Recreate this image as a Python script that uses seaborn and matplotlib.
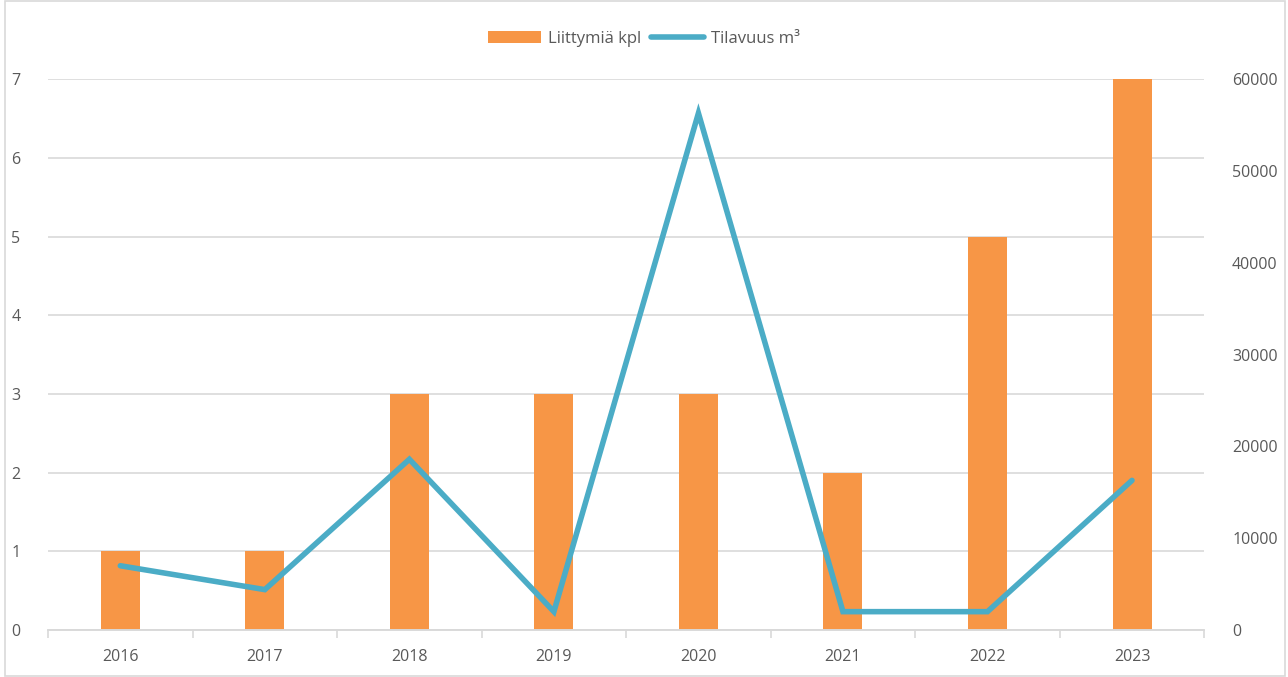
import numpy as np
import pandas as pd
import matplotlib
matplotlib.use("Agg")
import matplotlib.pyplot as plt
from matplotlib.patches import Rectangle, Patch
from matplotlib.lines import Line2D
import seaborn as sns

# data
years = ["2016", "2017", "2018", "2019", "2020", "2021", "2022", "2023"]
liittymia = [1, 1, 3, 3, 3, 2, 5, 7]
tilavuus = [7000, 4400, 18600, 2000, 56300, 2000, 2000, 16300]

BAR_COLOR = "#F79646"
LINE_COLOR = "#4BACC6"
TEXT_COLOR = "#595959"
GRID_COLOR = "#D9D9D9"

sns.set_theme(style="white")
plt.rcParams["font.family"] = ["Open Sans", "DejaVu Sans"]

df = pd.DataFrame({"Vuosi": years, "Liittymiä kpl": liittymia, "Tilavuus m³": tilavuus})

fig = plt.figure(figsize=(12.88, 6.77), dpi=100)
ax = fig.add_axes([0.0373, 0.0694, 0.8977, 0.8136])

sns.barplot(data=df, x="Vuosi", y="Liittymiä kpl", color=BAR_COLOR, width=0.27,
            saturation=1, ax=ax, zorder=2, linewidth=0)

ax2 = ax.twinx()
sns.pointplot(data=df, x="Vuosi", y="Tilavuus m³", color=LINE_COLOR, ax=ax2,
              markersize=0, linewidth=4.0, errorbar=None)
for ln in ax2.lines:
    ln.set_solid_capstyle("round")
    ln.set_solid_joinstyle("miter")

ax.set_xlim(-0.5, len(years) - 0.5)
ax.set_ylim(0, 7)
ax2.set_ylim(0, 60000)
ax.set_yticks(range(0, 8))
ax2.set_yticks(range(0, 60001, 10000))

ax.yaxis.grid(True, color=GRID_COLOR, linewidth=1.2, zorder=0)
ax.set_axisbelow(True)

for a in (ax, ax2):
    a.set_xlabel("")
    a.set_ylabel("")
    for s in ("top", "left", "right"):
        a.spines[s].set_visible(False)
    a.spines["bottom"].set_color(GRID_COLOR)
    a.spines["bottom"].set_linewidth(1.2)

ax.tick_params(axis="y", length=0, pad=20, labelsize=11.5, labelcolor=TEXT_COLOR)
ax2.tick_params(axis="y", length=0, pad=20, labelsize=11.5, labelcolor=TEXT_COLOR)
ax.set_xticks(np.arange(-0.5, len(years), 1), minor=True)
ax.tick_params(axis="x", which="major", bottom=True, length=0, pad=14, labelsize=11.5,
               labelcolor=TEXT_COLOR)
ax.tick_params(axis="x", which="minor", bottom=True, length=6, width=1.2, color=GRID_COLOR,
               direction="out")
ax2.tick_params(axis="x", length=0)

handles = [Patch(facecolor=BAR_COLOR, edgecolor="none"),
           Line2D([0], [0], color=LINE_COLOR, linewidth=4.0, solid_capstyle="round")]
fig.legend(handles, ["Liittymiä kpl", "Tilavuus m³"], loc="center", bbox_to_anchor=(0.5, 0.943),
           ncol=2, frameon=False, fontsize=12, labelcolor=TEXT_COLOR,
           handlelength=3.2, handleheight=0.8, columnspacing=0.6, handletextpad=0.4)

fig.patches.append(Rectangle((0.004, 0.002), 0.994, 0.996, transform=fig.transFigure,
                             fill=False, edgecolor=GRID_COLOR, linewidth=1.2))

fig.savefig("out.png", dpi=100)
